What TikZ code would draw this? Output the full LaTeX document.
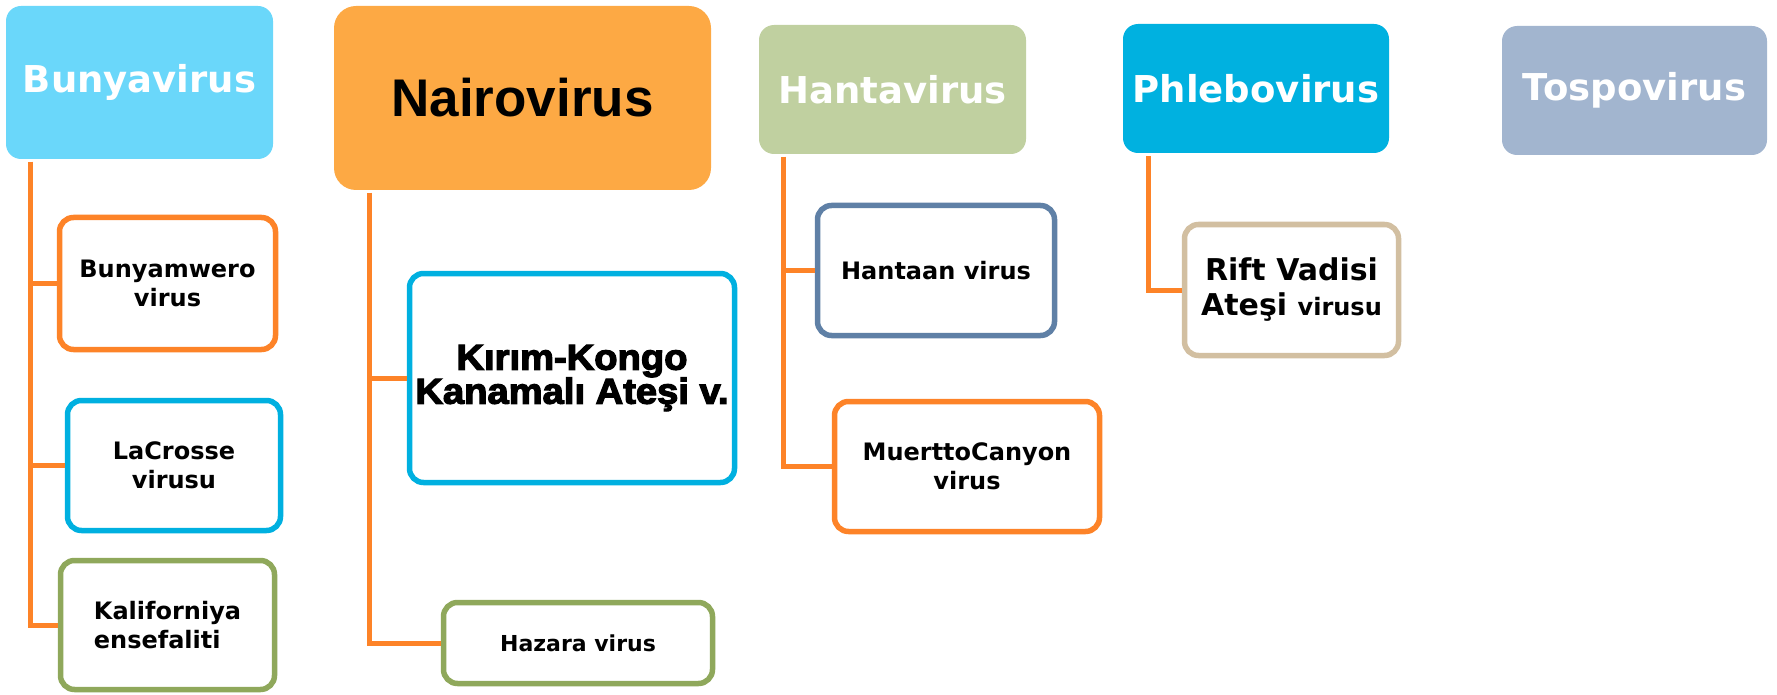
\documentclass[tikz,border=0pt]{standalone}
\usepackage{fontspec}
\setmainfont{DejaVu Sans}
\newfontfamily\arialf{Liberation Sans}
\newfontfamily\heavyf[FakeBold=3.5,FakeStretch=1.06]{Liberation Sans Bold}
\definecolor{orng}{HTML}{FD8328}
\definecolor{bunyaF}{HTML}{6AD7FA}
\definecolor{nairoF}{HTML}{FDA944}
\definecolor{hantaF}{HTML}{C0D0A0}
\definecolor{phleboF}{HTML}{00B1E0}
\definecolor{tospoF}{HTML}{A2B5CF}
\definecolor{blueB}{HTML}{00B0E0}
\definecolor{greenB}{HTML}{8FA85B}
\definecolor{steelB}{HTML}{5F80A6}
\definecolor{tanB}{HTML}{D2BFA1}
\tikzset{
  hdr/.style={rectangle, rounded corners=15, inner sep=0, text=white,
    font=\bfseries\fontsize{37}{44}\selectfont},
  childbox/.style={rectangle, draw, line width=5.5, rounded corners=14, fill=white,
    inner sep=0, align=center, font=\bfseries\fontsize{24}{29}\selectfont},
  conn/.style={draw=orng, line width=5}
}
\begin{document}
\begin{tikzpicture}[x=1pt, y=-1pt]
\useasboundingbox (0,0) rectangle (1777,695);
% headers
\node[hdr, fill=bunyaF, minimum width=267, minimum height=153] (bunya) at (139.5,82.5) {Bunyavirus};
\node[hdr, fill=nairoF, rounded corners=22, minimum width=377, minimum height=184, text=black,
  font=\arialf\bfseries\fontsize{53}{60}\selectfont] (nairo) at (522.5,98) {Nairovirus};
\node[hdr, fill=hantaF, minimum width=267, minimum height=129] (hanta) at (892.5,89.5) {Hantavirus};
\node[hdr, fill=phleboF, minimum width=266, minimum height=129] (phlebo) at (1256,88.5) {Phlebovirus};
\node[hdr, fill=tospoF, minimum width=265, minimum height=129] (tospo) at (1634.5,90.5) {Tospovirus};
% children
\node[childbox, draw=orng, minimum width=216, minimum height=132] (bunyam) at (167.5,283.5) {Bunyamwero\\virus};
\node[childbox, draw=blueB, minimum width=213, minimum height=130] (lacrosse) at (174,465.5) {LaCrosse\\virusu};
\node[childbox, draw=greenB, minimum width=214, minimum height=129, align=left] (kalif) at (167.5,625) {Kaliforniya\\ensefaliti};
\node[childbox, draw=blueB, minimum width=325, minimum height=209,
  font=\heavyf\fontsize{36}{34}\selectfont] (kirim) at (572,378) {Kırım-Kongo\\Kanamalı Ateşi v.};
\node[childbox, draw=greenB, minimum width=269, minimum height=81,
  font=\bfseries\fontsize{22}{27}\selectfont] (hazara) at (578,643) {Hazara virus};
\node[childbox, draw=steelB, minimum width=237, minimum height=130] (hantaan) at (936,270.5) {Hantaan virus};
\node[childbox, draw=orng, minimum width=265, minimum height=130] (muertto) at (967,466.5) {MuerttoCanyon\\virus};
\node[childbox, draw=tanB, minimum width=214, minimum height=131,
  font=\bfseries\fontsize{30}{35}\selectfont] (rift) at (1291.5,290) {Rift Vadisi\\Ateşi {\fontsize{24}{35}\selectfont virusu}};
% spines
\coordinate (bs) at (30,162);
\coordinate (ns) at (369.5,193);
\coordinate (hs) at (783,157);
\coordinate (ps) at (1148,156);
\draw[conn] (bs) |- (bunyam.west);
\draw[conn] (bs) |- (lacrosse.west);
\draw[conn] (bs) |- (kalif.west);
\draw[conn] (ns) |- (kirim.west);
\draw[conn] (ns) |- (hazara.west);
\draw[conn] (hs) |- (hantaan.west);
\draw[conn] (hs) |- (muertto.west);
\draw[conn] (ps) |- (rift.west);
\end{tikzpicture}
\end{document}
